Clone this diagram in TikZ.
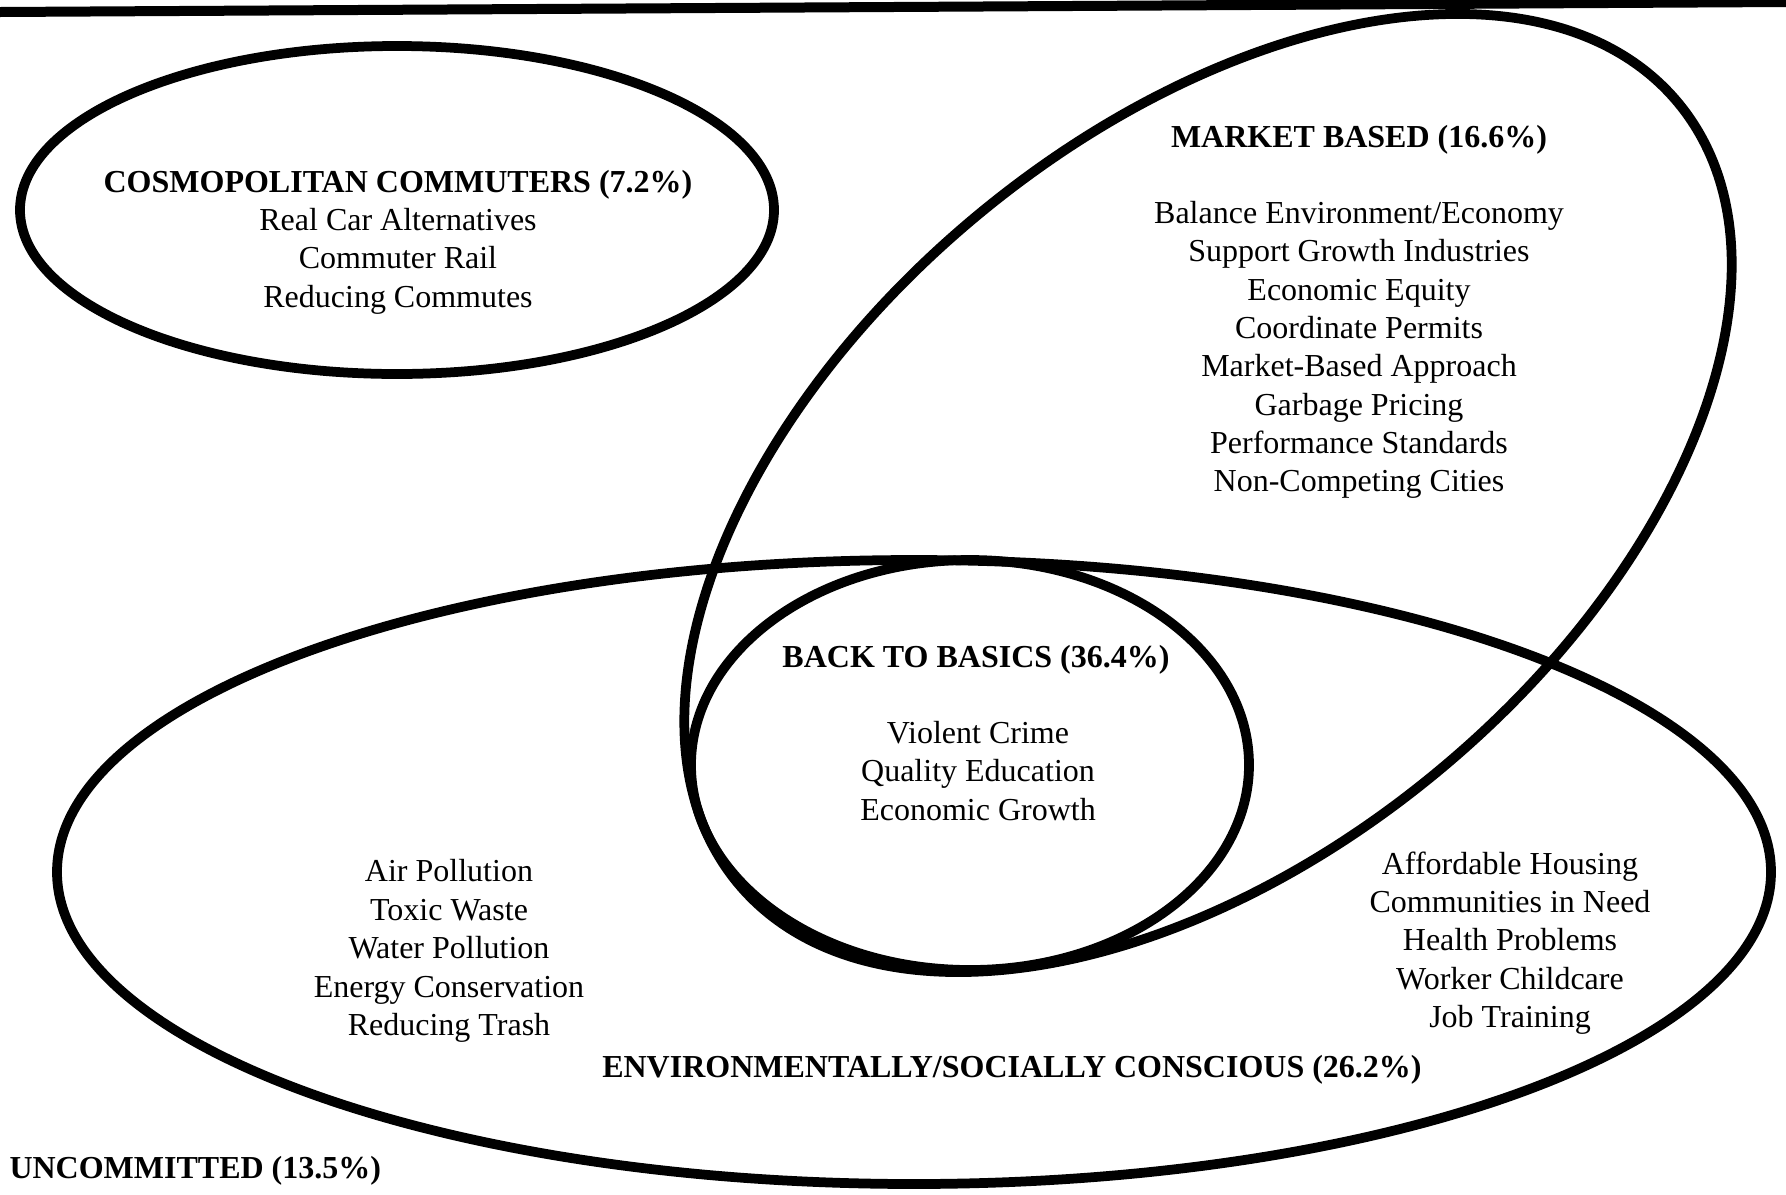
\documentclass[tikz,border=0pt]{standalone}
\usepackage{fontspec}
\setmainfont{Liberation Serif}
\begin{document}
\begin{tikzpicture}[x=0.4pt,y=-0.4pt,
  ring/.style={line width=3.9pt},
  txt/.style={align=center, inner sep=0pt, font=\fontsize{12.8}{15.35}\selectfont},
  head/.style={align=center, inner sep=0pt, font=\fontsize{12.8}{15.35}\selectfont\bfseries}]
\useasboundingbox (0,0) rectangle (1786,1194);
\fill[white] (0,0) rectangle (1786,1194);
% top rule
\draw[line width=4pt] (0,12) -- (1786,2);
% ellipses
\draw[ring] (397,210) ellipse [x radius=377, y radius=164];
\draw[ring, rotate around={39.7:(1208,493)}] (1208,493) ellipse [x radius=611, y radius=361];
\draw[ring] (914,872) ellipse [x radius=857, y radius=312];
\draw[ring] (970,765) ellipse [x radius=279, y radius=205];
% texts
\node[txt] (cosmo) at (398,242) {\textbf{COSMOPOLITAN COMMUTERS (7.2\%)}\\Real Car Alternatives\\Commuter Rail\\Reducing Commutes};
\node[head] (markethead) at (1359,140) {MARKET BASED (16.6\%)};
\node[txt] (marketitems) at (1359,350) {Balance Environment/Economy\\Support Growth Industries\\Economic Equity\\Coordinate Permits\\Market-Based Approach\\Garbage Pricing\\Performance Standards\\Non-Competing Cities};
\node[head] (basicshead) at (976,660) {BACK TO BASICS (36.4\%)};
\node[txt] (basicsitems) at (978,771) {Violent Crime\\Quality Education\\Economic Growth};
\node[txt] (envitems) at (449,951) {Air Pollution\\Toxic Waste\\Water Pollution\\Energy Conservation\\Reducing Trash};
\node[txt] (socitems) at (1510,943) {Affordable Housing\\Communities in Need\\Health Problems\\Worker Childcare\\Job Training};
\node[head] (envhead) at (1012,1070) {ENVIRONMENTALLY/SOCIALLY CONSCIOUS (26.2\%)};
\node[head, anchor=west] (uncommitted) at (9,1171) {UNCOMMITTED (13.5\%)};
\end{tikzpicture}
\end{document}
